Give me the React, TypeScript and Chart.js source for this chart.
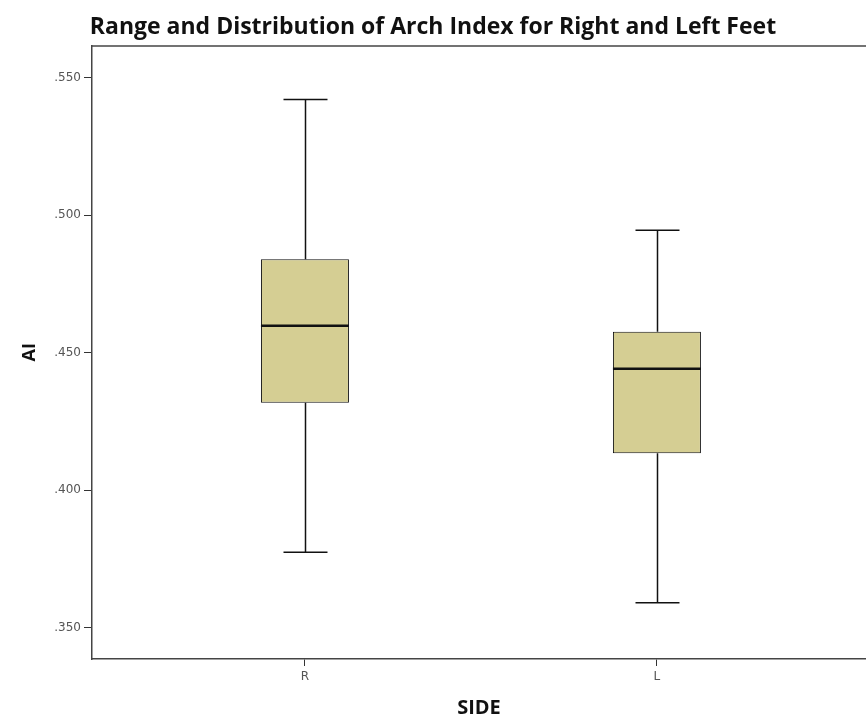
import React, { useEffect, useRef } from 'react';
import { Chart, registerables } from 'chart.js';

Chart.register(...registerables);

// ---- data ----
const SIDES = ['R', 'L'];
const POSITIONS = [1, 2];
const MINS = [0.3775, 0.3591];
const Q1S = [0.4318, 0.4135];
const MEDIANS = [0.4598, 0.4442];
const Q3S = [0.484, 0.4576];
const MAXS = [0.542, 0.4945];
const Y_TICKS = [0.35, 0.4, 0.45, 0.5, 0.55];

const BOX_FILL = '#d5ce93';
const LINE = '#111111';
const CAP_WIDTH = 0.125; // in x units

const whiskerPlugin = {
  id: 'whiskerPlugin',
  beforeDatasetsDraw(chart: any) {
    const { ctx, chartArea } = chart;
    ctx.save();
    ctx.strokeStyle = '#444';
    ctx.lineWidth = 1.5;
    ctx.beginPath();
    ctx.moveTo(chartArea.left, chartArea.top + 0.5);
    ctx.lineTo(chartArea.right, chartArea.top + 0.5);
    ctx.stroke();
    const x = chart.scales.x;
    const y = chart.scales.y;
    ctx.strokeStyle = LINE;
    ctx.lineWidth = 1.5;
    POSITIONS.forEach((p, i) => {
      const cx = Math.round(x.getPixelForValue(p)) + 0.5;
      const half = (x.getPixelForValue(p + CAP_WIDTH / 2) - x.getPixelForValue(p - CAP_WIDTH / 2)) / 2;
      const yMin = y.getPixelForValue(MINS[i]);
      const yMax = y.getPixelForValue(MAXS[i]);
      const yQ1 = y.getPixelForValue(Q1S[i]);
      const yQ3 = y.getPixelForValue(Q3S[i]);
      ctx.beginPath();
      ctx.moveTo(cx, yMax);
      ctx.lineTo(cx, yQ3);
      ctx.moveTo(cx, yQ1);
      ctx.lineTo(cx, yMin);
      ctx.moveTo(cx - half, yMax);
      ctx.lineTo(cx + half, yMax);
      ctx.moveTo(cx - half, yMin);
      ctx.lineTo(cx + half, yMin);
      ctx.stroke();
    });
    ctx.restore();
  },
  afterDatasetsDraw(chart: any) {
    const { ctx } = chart;
    const y = chart.scales.y;
    const meta = chart.getDatasetMeta(0);
    ctx.save();
    ctx.strokeStyle = LINE;
    ctx.lineWidth = 2.5;
    POSITIONS.forEach((p, i) => {
      const el = meta.data[i];
      if (!el) return;
      const ym = y.getPixelForValue(MEDIANS[i]);
      ctx.beginPath();
      ctx.moveTo(el.x - el.width / 2, ym);
      ctx.lineTo(el.x + el.width / 2, ym);
      ctx.stroke();
    });
    ctx.restore();
  },
};

export default function App() {
  const ref = useRef<HTMLCanvasElement | null>(null);

  useEffect(() => {
    if (!ref.current) return;
    const chart = new Chart(ref.current, {
      type: 'bar',
      data: {
        datasets: [
          {
            label: 'AI',
            data: POSITIONS.map((p, i) => ({ x: p, y: [Q1S[i], Q3S[i]] })) as any,
            backgroundColor: BOX_FILL,
            borderColor: LINE,
            borderWidth: 1,
            borderSkipped: false,
            categoryPercentage: 1,
            barPercentage: 0.25,
          },
        ],
      },
      options: {
        animation: false,
        responsive: false,
        layout: { padding: 0 },
        plugins: {
          legend: { display: false },
          tooltip: { enabled: false },
          title: {
            display: true,
            text: 'Range and Distribution of Arch Index for Right and Left Feet',
            color: '#111',
            font: { family: 'Open Sans', size: 23, weight: 'bold' },
            padding: { top: 14, bottom: 4 },
          },
        },
        scales: {
          x: {
            type: 'linear',
            offset: false,
            min: 0.395,
            max: 2.594,
            afterFit: (axis: any) => {
              axis.height = 62;
            },
            afterBuildTicks: (axis: any) => {
              axis.ticks = POSITIONS.map((v) => ({ value: v }));
            },
            ticks: {
              callback: (v: any) => SIDES[POSITIONS.indexOf(Number(v))] ?? '',
              color: '#555',
              font: { family: 'DejaVu Sans', size: 12 },
              padding: 4,
              maxRotation: 0,
            },
            grid: {
              display: true,
              offset: false,
              drawOnChartArea: false,
              drawTicks: true,
              tickLength: 7,
              color: '#333',
            },
            border: { display: true, color: '#444', width: 1.5 },
            title: {
              display: true,
              text: 'SIDE',
              color: '#111',
              font: { family: 'Open Sans', size: 20, weight: 'bold' },
              padding: { top: 0, bottom: 1 },
            },
          },
          y: {
            type: 'linear',
            min: 0.3387,
            max: 0.5616,
            afterFit: (axis: any) => {
              axis.width = 92;
            },
            afterBuildTicks: (axis: any) => {
              axis.ticks = Y_TICKS.map((v) => ({ value: v }));
            },
            ticks: {
              callback: (v: any) => Number(v).toFixed(3).replace(/^0/, ''),
              color: '#555',
              font: { family: 'DejaVu Sans', size: 12 },
              padding: 3,
            },
            grid: {
              display: true,
              drawOnChartArea: false,
              drawTicks: true,
              tickLength: 8,
              color: '#333',
            },
            border: { display: true, color: '#444', width: 1.5 },
            title: {
              display: true,
              text: 'AI',
              color: '#111',
              font: { family: 'Open Sans', size: 18, weight: 'bold' },
              padding: { top: 19, bottom: 0 },
            },
          },
        },
      },
      plugins: [whiskerPlugin],
    });
    return () => chart.destroy();
  }, []);

  return (
    <div style={{ position: 'fixed', left: 0, top: 0, width: 866, height: 721, background: '#fff' }}>
      <canvas ref={ref} width={866} height={721} style={{ display: 'block' }} />
    </div>
  );
}
